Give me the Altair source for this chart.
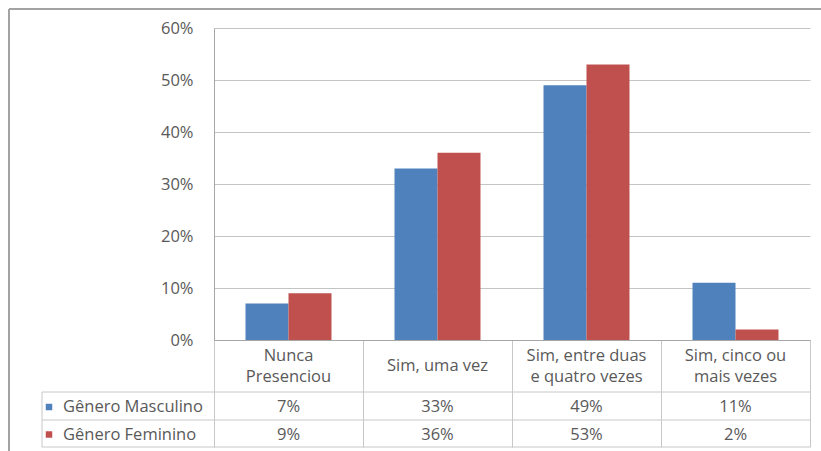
import altair as alt
import pandas as pd

# Categorias do eixo X e rótulos (quebra de linha marcada com "|")
categorias = [
    "Nunca Presenciou",
    "Sim, uma vez",
    "Sim, entre duas e quatro vezes",
    "Sim, cinco ou mais vezes",
]
rotulos = [
    "Nunca|Presenciou",
    "Sim, uma vez",
    "Sim, entre duas|e quatro vezes",
    "Sim, cinco ou|mais vezes",
]
series = ["Gênero Masculino", "Gênero Feminino"]
masculino = [0.07, 0.33, 0.49, 0.11]
feminino = [0.09, 0.36, 0.53, 0.02]
cores = ["#4F81BD", "#C0504D"]
ticks_y = [0.0, 0.1, 0.2, 0.3, 0.4, 0.5, 0.6]

FONTE = "Open Sans"
TAM = 16.5
COR_TEXTO = "#595959"
COR_GRADE = "#c4c4c4"
COR_TABELA = "#c8c8c8"

registros = []
for s, vals in zip(series, [masculino, feminino]):
    for c, v in zip(categorias, vals):
        registros.append({"categoria": c, "serie": s, "valor": v})
dados = pd.DataFrame(registros)
dados_rotulos = pd.DataFrame({"categoria": categorias, "rotulo": rotulos})
dados_rotulos["duas_linhas"] = dados_rotulos["rotulo"].str.contains("|", regex=False)

W, H = 596, 312          # área das barras
TAB = 107                # altura da tabela de dados abaixo do eixo
linhas_tabela = [H + 52, H + 80, H + TAB]   # divisões horizontais da tabela
centro_linhas = [H + 67, H + 94.5]          # centro das linhas de cada série
ESQ_TAB = -172                              # borda esquerda da coluna de séries
ALT_LINHA = 21

x_enc = alt.X(
    "categoria:N",
    sort=categorias,
    scale=alt.Scale(paddingInner=0, paddingOuter=0),
    axis=alt.Axis(
        title=None,
        labels=False,
        grid=False,
        tickBand="extent",
        tickSize=TAB,
        tickColor=COR_TABELA,
        tickWidth=1,
        domainColor="#a6a6a6",
        domainWidth=1,
    ),
)
cor_enc = alt.Color(
    "serie:N", scale=alt.Scale(domain=series, range=cores), legend=None
)

barras = alt.Chart(dados).mark_bar().encode(
    x=x_enc,
    xOffset=alt.XOffset(
        "serie:N", sort=series,
        scale=alt.Scale(paddingInner=0, paddingOuter=0.7326),
    ),
    y=alt.Y(
        "valor:Q",
        scale=alt.Scale(domain=[0, 0.6], nice=False),
        axis=alt.Axis(
            title=None,
            values=ticks_y,
            format=".0%",
            ticks=False,
            labelPadding=21,
            labelFont=FONTE,
            labelFontSize=TAM,
            labelColor=COR_TEXTO,
            gridColor=COR_GRADE,
            gridWidth=1,
            domainColor="#a6a6a6",
            domainWidth=1,
        ),
    ),
    color=cor_enc,
)

# Rótulos das categorias na primeira linha da tabela
estilo_rotulo = dict(
    font=FONTE, fontSize=TAM, color=COR_TEXTO, lineBreak="|",
    baseline="middle", align="center", lineHeight=ALT_LINHA,
)
base_rotulos = alt.Chart(dados_rotulos)
rotulos_duplos = base_rotulos.transform_filter(
    alt.datum.duas_linhas
).mark_text(**estilo_rotulo).encode(
    x=alt.X("categoria:N", sort=categorias),
    y=alt.value(H + 26 - ALT_LINHA / 2),
    text="rotulo:N",
)
rotulos_simples = base_rotulos.transform_filter(
    ~alt.datum.duas_linhas
).mark_text(**estilo_rotulo).encode(
    x=alt.X("categoria:N", sort=categorias),
    y=alt.value(H + 26),
    text="rotulo:N",
)

camadas = [barras, rotulos_duplos, rotulos_simples]

# Linhas de valores por série
for s, yc in zip(series, centro_linhas):
    sub = alt.Chart(dados).transform_filter(alt.datum.serie == s)
    camadas.append(
        sub.mark_text(
            font=FONTE, fontSize=TAM, color=COR_TEXTO, baseline="middle"
        ).encode(
            x=alt.X("categoria:N", sort=categorias),
            y=alt.value(yc),
            text=alt.Text("valor:Q", format=".0%"),
        )
    )
    cab = alt.Chart(pd.DataFrame({"serie": [s]}))
    camadas.append(
        cab.mark_square(size=42, opacity=1).encode(
            x=alt.value(ESQ_TAB + 7), y=alt.value(yc), color=cor_enc
        )
    )
    camadas.append(
        cab.mark_text(
            font=FONTE, fontSize=TAM, color=COR_TEXTO, align="left",
            baseline="middle",
        ).encode(x=alt.value(ESQ_TAB + 21), y=alt.value(yc), text="serie:N")
    )

# Grade da tabela: linhas horizontais e borda esquerda da coluna de séries
for yl in linhas_tabela:
    camadas.append(
        alt.Chart(pd.DataFrame({"k": [0]})).mark_rule(
            color=COR_TABELA, strokeWidth=1
        ).encode(x=alt.value(ESQ_TAB), x2=alt.value(W), y=alt.value(yl))
    )
camadas.append(
    alt.Chart(pd.DataFrame({"k": [0]})).mark_rule(
        color=COR_TABELA, strokeWidth=1
    ).encode(
        x=alt.value(ESQ_TAB), y=alt.value(linhas_tabela[0]),
        y2=alt.value(linhas_tabela[-1])
    )
)

# Moldura externa do gráfico
camadas.append(
    alt.Chart(pd.DataFrame({"k": [0]})).mark_rule(
        color="#a3a3a3", strokeWidth=2
    ).encode(x=alt.value(-205), x2=alt.value(W + 20), y=alt.value(-19))
)
camadas.append(
    alt.Chart(pd.DataFrame({"k": [0]})).mark_rule(
        color="#a3a3a3", strokeWidth=2
    ).encode(x=alt.value(-205), y=alt.value(-19), y2=alt.value(H + 130))
)

chart = (
    alt.layer(*camadas)
    .properties(
        width=W,
        height=H,
        padding={"left": 214, "top": 28, "right": 11, "bottom": 111},
        autosize=alt.AutoSizeParams(type="none"),
        background="white",
    )
    .configure_view(stroke=None)
)

chart.save("out.html", embed_options={"renderer": "svg", "actions": False})
